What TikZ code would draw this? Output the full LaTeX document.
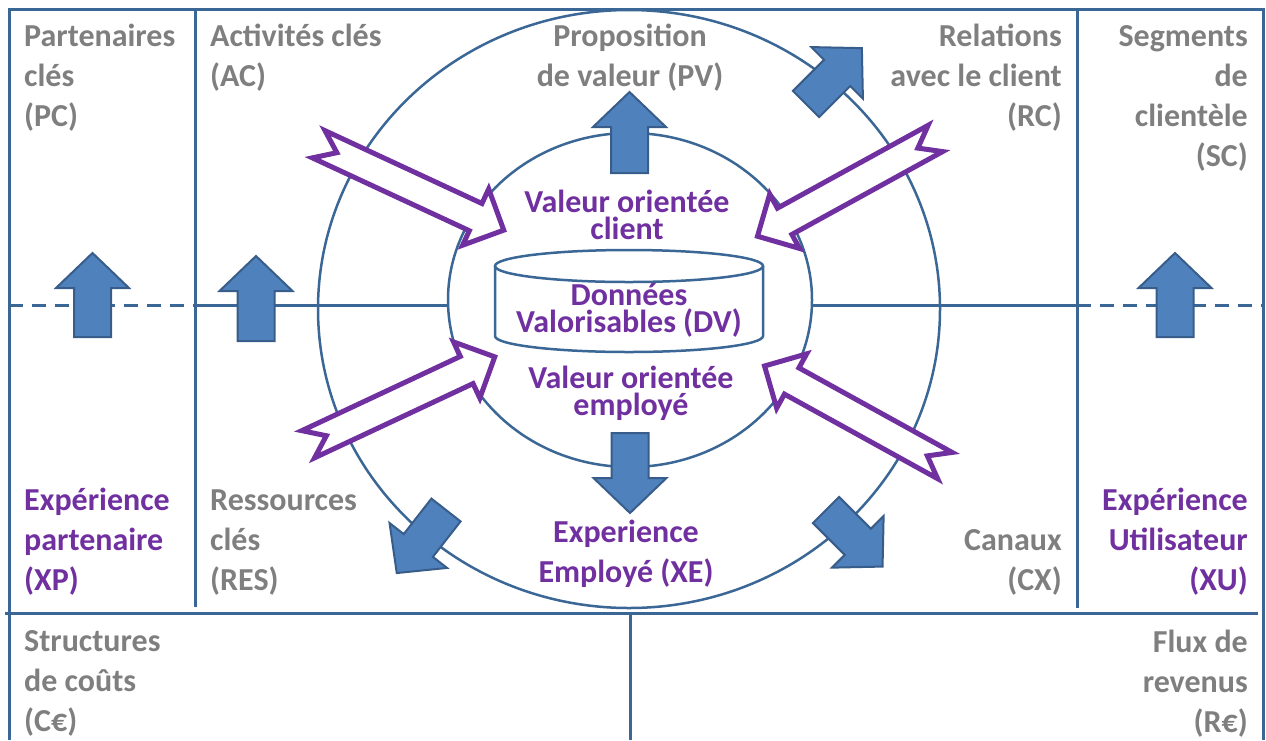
\documentclass[tikz,border=0pt]{standalone}
\usepackage{fontspec}
\setmainfont{Carlito}
\usetikzlibrary{calc}

\definecolor{frameblue}{HTML}{3A6796}
\definecolor{arrowfill}{HTML}{4F81BD}
\definecolor{arrowline}{HTML}{385D8A}
\definecolor{labelgray}{HTML}{7F7F7F}
\definecolor{labelpurple}{HTML}{7030A0}

\tikzset{
  lbl/.style={inner sep=0pt, font=\bfseries\fontsize{32}{40}\selectfont},
  graylbl/.style={lbl, text=labelgray},
  purplelbl/.style={lbl, text=labelpurple},
  tightlbl/.style={inner sep=0pt, text=labelpurple, align=center,
    font=\bfseries\fontsize{32}{27.5}\selectfont},
  frameline/.style={draw=frameblue, line width=3pt},
  dashline/.style={frameline, dash pattern=on 14pt off 9pt},
  ringline/.style={draw=frameblue, line width=2.5pt},
  bluearrow/.style={fill=arrowfill, draw=arrowline, line width=2pt, line join=miter},
  hollowarrow/.style={fill=white, draw=labelpurple, line width=5pt,
    line join=miter, miter limit=10},
}

% block arrow: tail centre x, y, direction angle, length
\newcommand\blockarrow[4]{%
  \begin{scope}[shift={(#1,#2)}, rotate=#3]
    \draw[bluearrow] (0,-18.5) -- ({#4-35},-18.5) -- ({#4-35},-36.5) -- (#4,0)
      -- ({#4-35},36.5) -- ({#4-35},18.5) -- (0,18.5) -- cycle;
  \end{scope}}

% notched hollow arrow: tail centre x, y, direction angle, length
\newcommand\notcharrow[4]{%
  \begin{scope}[shift={(#1,#2)}, rotate=#3]
    \draw[hollowarrow] (3,-15) -- ({#4-35},-15) -- ({#4-35},-31) -- ({#4-4},0)
      -- ({#4-35},31) -- ({#4-35},15) -- (3,15) -- (23,0) -- cycle;
  \end{scope}}

\begin{document}
\begin{tikzpicture}[x=1pt, y=-1pt]
\useasboundingbox (0,0) rectangle (1266,740);

% canvas grid
\draw[frameline] (9,740) -- (9,9) -- (1263,9) -- (1263,740);
\draw[frameline] (195,9) -- (195,607);
\draw[frameline] (1077,9) -- (1077,608);
\draw[frameline] (5,613) -- (1258,613);
\draw[frameline] (630,613) -- (630,740);

% middle line
\draw[dashline] (9,305) -- (195,305);
\draw[frameline] (195,305) -- (448,305);
\draw[frameline] (812,305) -- (1077,305);
\draw[dashline] (1077,305) -- (1263,305);

% rings
\draw[ringline] (629,309) ellipse[x radius=311, y radius=299];
\draw[ringline] (630,300) ellipse[x radius=182, y radius=167];

% data cylinder
\draw[ringline, fill=white] (495,266) -- (495,336)
  arc[start angle=180, end angle=0, x radius=134, y radius=16] -- (763,266);
\draw[ringline] (629,266) ellipse[x radius=134, y radius=16];

% blue arrows
\blockarrow{92.5}{337}{90}{84}
\blockarrow{256}{341}{90}{85}
\blockarrow{1175}{337}{90}{84}
\blockarrow{629.5}{173}{90}{81}
\blockarrow{630}{433}{-90}{80}
\blockarrow{806}{104}{45}{79}
\blockarrow{446}{510}{232}{80}
\blockarrow{826}{510}{-45}{80}

% purple hollow arrows
\notcharrow{316}{143}{-24.9}{211}
\notcharrow{938}{137}{208.8}{210}
\notcharrow{305.5}{445.5}{25.1}{213}
\notcharrow{947.5}{467}{151.1}{213}

% labels (anchored on the baseline of their last line)
\node[graylbl, anchor=base west, align=left] (pc) at (24,126) {Partenaires\\clés\\(PC)};
\node[graylbl, anchor=base west, align=left] (ac) at (210,86) {Activités clés\\(AC)};
\node[graylbl, anchor=base, align=center] (pv) at (630,86) {Proposition\\de valeur (PV)};
\node[graylbl, anchor=base east, align=right] (rc) at (1062,126) {Relations\\avec le client\\(RC)};
\node[graylbl, anchor=base east, align=right] (sc) at (1248,166) {Segments\\de\\clientèle\\(SC)};
\node[purplelbl, anchor=base west, align=left] (xp) at (24,590) {Expérience\\partenaire\\(XP)};
\node[graylbl, anchor=base west, align=left] (res) at (210,590) {Ressources\\clés\\(RES)};
\node[graylbl, anchor=base east, align=right] (cx) at (1062,590) {Canaux\\(CX)};
\node[purplelbl, anchor=base east, align=right] (xu) at (1248,590) {Expérience\\Utilisateur\\(XU)};
\node[graylbl, anchor=base west, align=left] (ce) at (24,731) {Structures\\de coûts\\(C€)};
\node[graylbl, anchor=base east, align=right] (re) at (1248,732) {Flux de\\revenus\\(R€)};

\node[tightlbl, anchor=base] (voc) at (627,239.5) {Valeur orientée\\client};
\node[tightlbl, anchor=base] (dv) at (629,332.5) {Données\\Valorisables (DV)};
\node[tightlbl, anchor=base] (voe) at (631,415.5) {Valeur orientée\\employé};
\node[purplelbl, anchor=base, align=center] (xe) at (626,582) {Experience\\Employé (XE)};
\end{tikzpicture}
\end{document}
